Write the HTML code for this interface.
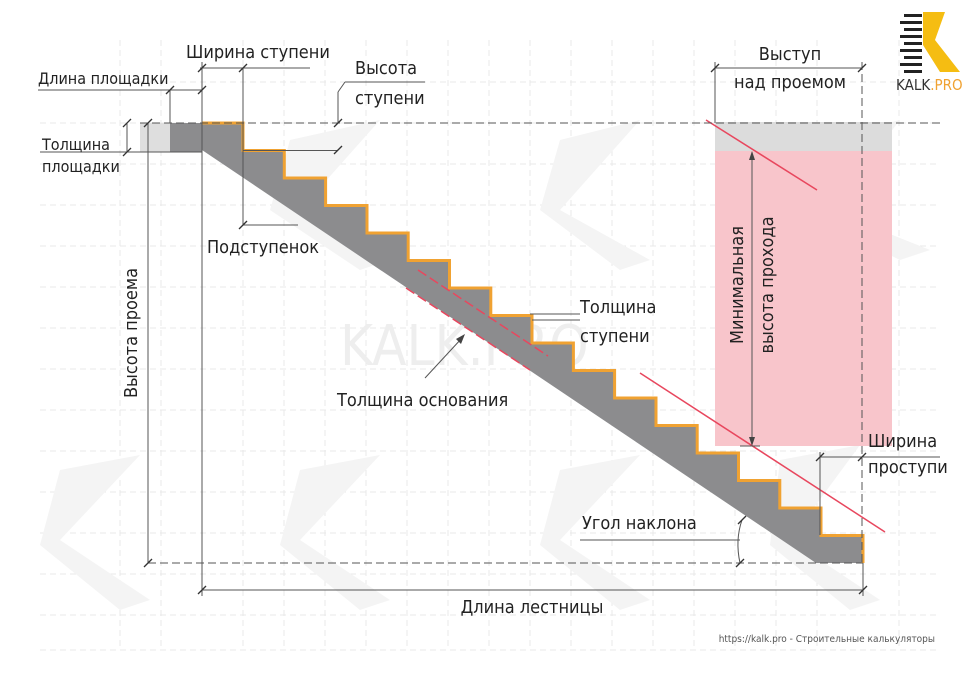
<!DOCTYPE html>
<html><head><meta charset="utf-8"><style>
html,body{margin:0;padding:0;background:#fff;}
svg{display:block;}
text{font-family:"Liberation Sans Narrow","DejaVu Sans Condensed","Liberation Sans",sans-serif;fill:#222;}
</style></head><body>
<svg width="980" height="694" viewBox="0 0 980 694" xmlns="http://www.w3.org/2000/svg">
<rect width="980" height="694" fill="#fff"/>
<!-- grid -->
<g stroke="#e8e8e8" stroke-width="1" stroke-dasharray="6 4">
<line x1="40" y1="82" x2="940" y2="82"/><line x1="40" y1="123" x2="940" y2="123"/>
<line x1="40" y1="164" x2="940" y2="164"/><line x1="40" y1="205" x2="940" y2="205"/>
<line x1="40" y1="246" x2="940" y2="246"/><line x1="40" y1="287" x2="940" y2="287"/>
<line x1="40" y1="328" x2="940" y2="328"/><line x1="40" y1="369" x2="940" y2="369"/>
<line x1="40" y1="410" x2="940" y2="410"/><line x1="40" y1="451" x2="940" y2="451"/>
<line x1="40" y1="492" x2="940" y2="492"/><line x1="40" y1="533" x2="940" y2="533"/>
<line x1="40" y1="574" x2="940" y2="574"/><line x1="40" y1="615" x2="940" y2="615"/>
<line x1="40" y1="650" x2="940" y2="650"/>
<line x1="120" y1="40" x2="120" y2="650"/><line x1="161" y1="40" x2="161" y2="650"/>
<line x1="243" y1="40" x2="243" y2="650"/><line x1="284" y1="40" x2="284" y2="650"/>
<line x1="325" y1="40" x2="325" y2="650"/><line x1="366" y1="40" x2="366" y2="650"/>
<line x1="407" y1="40" x2="407" y2="650"/><line x1="448" y1="40" x2="448" y2="650"/>
<line x1="489" y1="40" x2="489" y2="650"/><line x1="530" y1="40" x2="530" y2="650"/>
<line x1="571" y1="40" x2="571" y2="650"/><line x1="612" y1="40" x2="612" y2="650"/>
<line x1="653" y1="40" x2="653" y2="650"/><line x1="694" y1="40" x2="694" y2="650"/>
<line x1="735" y1="40" x2="735" y2="650"/><line x1="776" y1="40" x2="776" y2="650"/>
<line x1="817" y1="40" x2="817" y2="650"/><line x1="899" y1="40" x2="899" y2="650"/>
</g>
<!-- watermark -->
<g fill="#f4f4f4">
<polygon points="60,470 140,455 60,540 150,600 120,610 40,545"/>
<polygon points="300,470 380,455 300,540 390,600 360,610 280,545"/>
<polygon points="560,470 640,455 560,540 650,600 620,610 540,545"/>
<polygon points="780,460 860,445 790,540 880,600 850,610 770,545"/>
<polygon points="290,140 380,120 300,210 390,260 360,270 270,210"/>
<polygon points="560,140 640,120 560,210 650,260 620,270 540,210"/>
<polygon points="820,140 900,120 830,210 930,250 900,260 800,210"/>
</g>
<text x="340" y="365" font-size="56" style="fill:#eeeeee">KALK.PRO</text>
<!-- pink area -->
<rect x="715" y="151" width="177" height="295" fill="#f8c5cb"/>
<rect x="715" y="122" width="177" height="29" fill="#dcdcdc"/>
<!-- landing -->
<rect x="140" y="123" width="30" height="29" fill="#dedede"/>
<rect x="170" y="123" width="32" height="29" fill="#8c8c8e"/>
<!-- stair -->
<path d="M202,123 L243,123 L243,150.5 L284.3,150.5 L284.3,178 L325.6,178 L325.6,205.5 L367,205.5 L367,233 L408.2,233 L408.2,260.5 L449.5,260.5 L449.5,288 L490.8,288 L490.8,315.5 L532,315.5 L532,343 L573.4,343 L573.4,370.5 L614.6,370.5 L614.6,398 L656,398 L656,425.5 L697.2,425.5 L697.2,453 L738.5,453 L738.5,480.5 L779.8,480.5 L779.8,508 L821,508 L821,535.5 L863,535.5 L863,563 L816,563 L202,150 Z" fill="#8c8c8e"/>
<path d="M202,123 L243,123 L243,150.5 L284.3,150.5 L284.3,178 L325.6,178 L325.6,205.5 L367,205.5 L367,233 L408.2,233 L408.2,260.5 L449.5,260.5 L449.5,288 L490.8,288 L490.8,315.5 L532,315.5 L532,343 L573.4,343 L573.4,370.5 L614.6,370.5 L614.6,398 L656,398 L656,425.5 L697.2,425.5 L697.2,453 L738.5,453 L738.5,480.5 L779.8,480.5 L779.8,508 L821,508 L821,535.5 L863,535.5 L863,563" fill="none" stroke="#f0a232" stroke-width="3"/>
<!-- red lines -->
<g stroke="#e8475e" stroke-width="1.5">
<line x1="706" y1="120" x2="817" y2="190"/>
<line x1="640" y1="373" x2="885" y2="532"/>
<line x1="418" y1="270" x2="548" y2="356" stroke-dasharray="10 4"/>
<line x1="406" y1="288" x2="530" y2="370" stroke-dasharray="10 4"/>
</g>
<!-- dimension lines -->
<g stroke="#555" stroke-width="1" fill="none">
<line x1="140" y1="123" x2="940" y2="123" stroke-dasharray="8 4"/>
<line x1="148" y1="563" x2="863" y2="563" stroke-dasharray="8 4"/>
<line x1="862" y1="62" x2="862" y2="563" stroke-dasharray="8 4"/>
<line x1="148" y1="123" x2="148" y2="563"/>
<line x1="202" y1="62" x2="202" y2="596"/>
<line x1="202" y1="590" x2="863" y2="590"/>
<line x1="863" y1="563" x2="863" y2="596"/>
<line x1="38" y1="90" x2="202" y2="90"/>
<line x1="170" y1="90" x2="170" y2="123"/>
<line x1="200" y1="68" x2="310" y2="68"/>
<line x1="243" y1="68" x2="243" y2="225"/>
<line x1="243" y1="225" x2="298" y2="225"/>
<line x1="243" y1="150.5" x2="338" y2="150.5"/>
<line x1="338" y1="123" x2="338" y2="92"/>
<line x1="338" y1="92" x2="345" y2="82"/>
<line x1="345" y1="82" x2="425" y2="82"/>
<line x1="127" y1="123" x2="127" y2="152"/>
<line x1="40" y1="152" x2="202" y2="152"/>
<line x1="715" y1="62" x2="715" y2="123"/>
<line x1="715" y1="68" x2="862" y2="68"/>
<line x1="752" y1="152" x2="752" y2="444"/>
<line x1="740" y1="446" x2="760" y2="446"/>
<line x1="820" y1="452" x2="820" y2="535"/>
<line x1="820" y1="457" x2="940" y2="457"/>
<line x1="530" y1="314" x2="580" y2="314"/>
<line x1="532" y1="320" x2="580" y2="320"/>
<line x1="425" y1="378" x2="462" y2="338"/>
<line x1="580" y1="540" x2="740" y2="540"/>
<path d="M742,520 Q735,540 740,563"/>
</g>
<g stroke="#333" stroke-width="1.3">
<line x1="144" y1="127" x2="152" y2="119"/><line x1="144" y1="567" x2="152" y2="559"/>
<line x1="198" y1="594" x2="206" y2="586"/><line x1="859" y1="594" x2="867" y2="586"/>
<line x1="166" y1="94" x2="174" y2="86"/><line x1="198" y1="94" x2="206" y2="86"/>
<line x1="198" y1="72" x2="206" y2="64"/><line x1="239" y1="72" x2="247" y2="64"/>
<line x1="239" y1="229" x2="247" y2="221"/>
<line x1="334" y1="127" x2="342" y2="119"/><line x1="334" y1="154" x2="342" y2="146"/>
<line x1="123" y1="127" x2="131" y2="119"/><line x1="123" y1="156" x2="131" y2="148"/>
<line x1="711" y1="72" x2="719" y2="64"/><line x1="858" y1="72" x2="866" y2="64"/>
<line x1="816" y1="461" x2="824" y2="453"/><line x1="858" y1="461" x2="866" y2="453"/>
<line x1="738" y1="524" x2="746" y2="516"/><line x1="736" y1="567" x2="744" y2="559"/>
</g>
<g fill="#444">
<polygon points="752,151 749,160 755,160"/>
<polygon points="752,446 749,437 755,437"/>
<polygon points="465,334 456,339 461,344"/>
</g>
<!-- labels -->
<g font-size="18">
<text x="186" y="58">Ширина ступени</text>
<text x="38" y="84" font-size="16">Длина площадки</text>
<text x="355" y="74">Высота</text>
<text x="355" y="104">ступени</text>
<text x="42" y="150" font-size="16">Толщина</text>
<text x="42" y="172" font-size="16">площадки</text>
<text x="207" y="253">Подступенок</text>
<text x="580" y="313">Толщина</text>
<text x="580" y="342">ступени</text>
<text x="337" y="406">Толщина основания</text>
<text x="790" y="60" text-anchor="middle">Выступ</text>
<text x="790" y="88" text-anchor="middle">над проемом</text>
<text x="868" y="447">Ширина</text>
<text x="868" y="473">проступи</text>
<text x="582" y="529">Угол наклона</text>
<text x="532" y="613" text-anchor="middle">Длина лестницы</text>
<text transform="translate(137,333) rotate(-90)" text-anchor="middle">Высота проема</text>
<text transform="translate(743,285) rotate(-90)" text-anchor="middle">Минимальная</text>
<text transform="translate(773,285) rotate(-90)" text-anchor="middle">высота прохода</text>
</g>
<text x="935" y="642" font-size="10" text-anchor="end" style="fill:#555" font-family="Liberation Sans, sans-serif">https://kalk.pro - Строительные калькуляторы</text>
<!-- logo -->
<g fill="#222">
<rect x="904" y="14" width="18" height="3"/><rect x="900" y="21" width="22" height="3"/>
<rect x="904" y="28" width="18" height="3"/><rect x="900" y="35" width="22" height="3"/>
<rect x="904" y="42" width="18" height="3"/><rect x="900" y="49" width="22" height="3"/>
<rect x="904" y="56" width="18" height="3"/><rect x="900" y="63" width="22" height="3"/>
<rect x="904" y="70" width="18" height="3"/>
</g>
<polygon points="923,12 945,12 935,40 960,72 940,72 923,45" fill="#f5bd12"/>
<text x="896" y="90" font-size="15" font-family="Liberation Sans, sans-serif" style="fill:#333">KALK<tspan style="fill:#f0a232">.PRO</tspan></text>
</svg>
</body></html>
